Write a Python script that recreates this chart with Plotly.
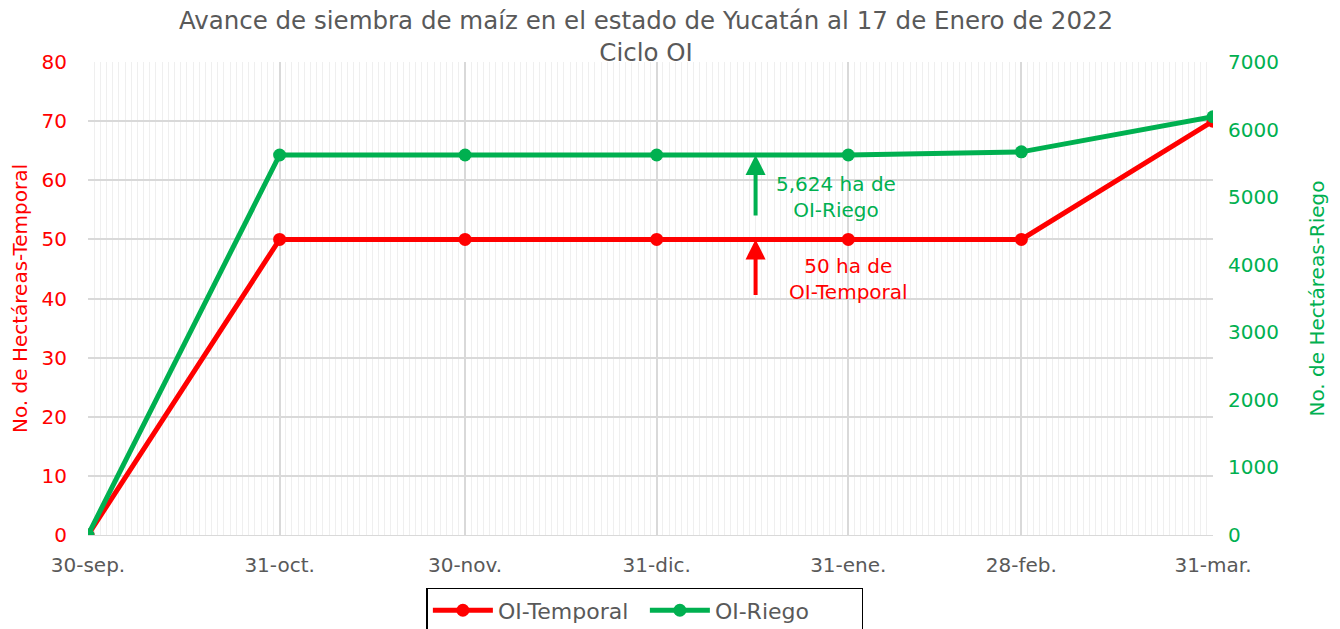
import plotly.graph_objects as go

dates = ["2021-09-30", "2021-10-31", "2021-11-30", "2021-12-31", "2022-01-31", "2022-02-28", "2022-03-31"]
tick_labels = ["30-sep.", "31-oct.", "30-nov.", "31-dic.", "31-ene.", "28-feb.", "31-mar."]
temporal = [0, 50, 50, 50, 50, 50, 70]
riego = [0, 5624, 5624, 5624, 5624, 5670, 6190]

RED = "#FF0000"
GREEN = "#00B050"
FONT = "DejaVu Sans"

fig = go.Figure()
fig.add_trace(go.Scatter(x=dates, y=temporal, name="OI-Temporal", mode="lines+markers",
                         line=dict(color=RED, width=5), marker=dict(size=13, color=RED), yaxis="y"))
fig.add_trace(go.Scatter(x=dates, y=riego, name="OI-Riego", mode="lines+markers",
                         line=dict(color=GREEN, width=5), marker=dict(size=13, color=GREEN), yaxis="y2"))

fig.update_layout(
    width=1332, height=621,
    margin=dict(l=80, r=127, t=54, b=94, autoexpand=False),
    paper_bgcolor="white", plot_bgcolor="white",
    font=dict(family=FONT, color="#595959", size=20),
    title=dict(text="Avance de siembra de maíz en el estado de Yucatán al 17 de Enero de 2022<br>Ciclo OI",
               x=0.479, xanchor="center", yref="container", y=0.966, yanchor="middle",
               font=dict(size=24.5, color="#595959")),
    showlegend=True,
    legend=dict(orientation="h", x=0.495, xanchor="center", y=-0.112, yanchor="top",
                bordercolor="black", borderwidth=1.5, font=dict(size=22, color="#595959"),
                entrywidth=142, itemwidth=60),
    xaxis=dict(range=["2021-09-30", "2022-03-31"], tickvals=dates, ticktext=tick_labels,
               showgrid=True, gridcolor="#D9D9D9", gridwidth=1.5,
               minor=dict(dtick=86400000, showgrid=True, gridcolor="#EFEFEF", gridwidth=1),
               showline=True, linecolor="#D9D9D9", zeroline=False,
               ticks="outside", ticklen=12, tickcolor="rgba(0,0,0,0)", automargin=False,
               tickfont=dict(size=20, color="#595959")),
    yaxis=dict(range=[0, 80], dtick=10, showgrid=True, gridcolor="#D9D9D9", gridwidth=1.5,
               zeroline=False, tickfont=dict(size=20, color=RED),
               ticks="outside", ticklen=16, tickcolor="rgba(0,0,0,0)", automargin=False,
               title=dict(text="No. de Hectáreas-Temporal", font=dict(size=20, color=RED), standoff=34)),
    yaxis2=dict(range=[0, 7000], dtick=1000, overlaying="y", side="right", showgrid=False,
                zeroline=False, tickfont=dict(size=20, color=GREEN),
                ticks="outside", ticklen=10, tickcolor="rgba(0,0,0,0)", automargin=False,
                title=dict(text="No. de Hectáreas-Riego", font=dict(size=20, color=GREEN), standoff=32)),
)

fig.add_annotation(x="2022-01-16", y=5624, xref="x", yref="y2", text="", showarrow=True,
                   arrowhead=2, arrowsize=1, arrowwidth=4, arrowcolor=GREEN, ax=0, ay=62)
fig.add_annotation(x="2022-01-16", y=50, xref="x", yref="y", text="", showarrow=True,
                   arrowhead=2, arrowsize=1, arrowwidth=4, arrowcolor=RED, ax=0, ay=57)
fig.add_annotation(x="2022-01-29", y=57.2, xref="x", yref="y", text="5,624 ha de<br>OI-Riego",
                   showarrow=False, font=dict(size=20, color=GREEN))
fig.add_annotation(x="2022-01-31", y=43.3, xref="x", yref="y", text="50 ha de<br>OI-Temporal",
                   showarrow=False, font=dict(size=20, color=RED))

fig.write_html("out.html")
